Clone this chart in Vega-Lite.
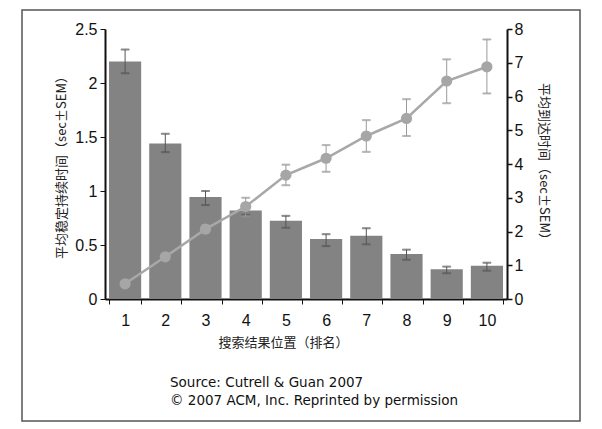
{
  "$schema": "https://vega.github.io/schema/vega-lite/v6.json",
  "width": 558,
  "height": 411,
  "autosize": {"type": "none"},
  "padding": {"left": 22, "top": 10, "right": 22, "bottom": 8},
  "background": "white",
  "config": {
    "view": {"stroke": "#555555", "strokeWidth": 1.5},
    "axis": {"labelFont": "Liberation Sans", "labelColor": "#111111", "titleFont": "Noto Sans CJK SC", "titleFontWeight": "normal", "titleColor": "#222222", "titleFontSize": 13, "domainColor": "#111111", "domainWidth": 2, "tickColor": "#111111", "grid": false}
  },
  "title": {
    "text": ["Source:  Cutrell & Guan 2007", "© 2007 ACM, Inc. Reprinted by permission"],
    "orient": "bottom",
    "anchor": "start",
    "frame": "group",
    "baseline": "top",
    "offset": -45,
    "dx": 148,
    "font": "DejaVu Sans",
    "fontSize": 13.5,
    "fontWeight": "normal",
    "color": "#111111",
    "lineHeight": 18
  },
  "data": {
    "values": [
      {"pos": "1", "dur": 2.20, "dur_lo": 2.09, "dur_hi": 2.31, "arr": 0.45, "arr_lo": 0.40, "arr_hi": 0.50},
      {"pos": "2", "dur": 1.44, "dur_lo": 1.36, "dur_hi": 1.53, "arr": 1.25, "arr_lo": 1.17, "arr_hi": 1.33},
      {"pos": "3", "dur": 0.945, "dur_lo": 0.87, "dur_hi": 1.00, "arr": 2.07, "arr_lo": 1.95, "arr_hi": 2.19},
      {"pos": "4", "dur": 0.82, "dur_lo": 0.78, "dur_hi": 0.87, "arr": 2.74, "arr_lo": 2.45, "arr_hi": 3.00},
      {"pos": "5", "dur": 0.725, "dur_lo": 0.66, "dur_hi": 0.77, "arr": 3.67, "arr_lo": 3.37, "arr_hi": 3.98},
      {"pos": "6", "dur": 0.555, "dur_lo": 0.49, "dur_hi": 0.60, "arr": 4.17, "arr_lo": 3.77, "arr_hi": 4.56},
      {"pos": "7", "dur": 0.586, "dur_lo": 0.506, "dur_hi": 0.655, "arr": 4.83, "arr_lo": 4.36, "arr_hi": 5.30},
      {"pos": "8", "dur": 0.417, "dur_lo": 0.364, "dur_hi": 0.457, "arr": 5.35, "arr_lo": 4.83, "arr_hi": 5.92},
      {"pos": "9", "dur": 0.275, "dur_lo": 0.238, "dur_hi": 0.30, "arr": 6.46, "arr_lo": 5.80, "arr_hi": 7.10},
      {"pos": "10", "dur": 0.308, "dur_lo": 0.262, "dur_hi": 0.336, "arr": 6.88, "arr_lo": 6.09, "arr_hi": 7.69}
    ]
  },
  "layer": [
    {
      "layer": [
        {
          "mark": {"type": "bar", "color": "#838383"},
          "encoding": {
            "x": {
              "field": "pos", "type": "ordinal", "sort": null, "title": "搜索结果位置（排名）",
              "scale": {"range": [83, 485], "paddingInner": 0.2, "paddingOuter": 0.1},
              "axis": {"labelAngle": 0, "offset": -122, "tickBand": "extent", "tickSize": 5, "labelFontSize": 16, "labelPadding": 8, "titleX": 261, "titleY": 47, "titleAlign": "center", "titleBaseline": "alphabetic", "titleAnchor": null}
            },
            "y": {
              "field": "dur", "type": "quantitative", "title": "平均稳定持续时间（sec±SEM）",
              "scale": {"domain": [0, 2.5], "range": [289, 19], "nice": false},
              "axis": {"orient": "left", "offset": -83, "values": [0, 0.5, 1, 1.5, 2, 2.5], "format": "~g", "tickSize": 5, "labelFontSize": 16, "labelPadding": 3, "titlePadding": 6}
            }
          }
        },
        {
          "mark": {"type": "errorbar", "rule": {"stroke": "#555555", "strokeWidth": 1}, "ticks": {"stroke": "#555555", "size": 8, "thickness": 1}},
          "encoding": {
            "x": {"field": "pos", "type": "ordinal", "sort": null, "title": "搜索结果位置（排名）"},
            "y": {"field": "dur_lo", "type": "quantitative", "title": "平均稳定持续时间（sec±SEM）"},
            "y2": {"field": "dur_hi"}
          }
        }
      ]
    },
    {
      "layer": [
        {
          "mark": {"type": "line", "color": "#a8a8a8", "strokeWidth": 2.5},
          "encoding": {
            "x": {"field": "pos", "type": "ordinal", "sort": null, "title": "搜索结果位置（排名）"},
            "y": {
              "field": "arr", "type": "quantitative", "title": "平均到达时间（sec±SEM）",
              "scale": {"domain": [0, 8], "range": [289, 19], "nice": false},
              "axis": {
                "orient": "right", "offset": -73,
                "values": [0, 0.25, 0.5, 0.75, 1, 1.25, 1.5, 1.75, 2, 2.25, 2.5, 2.75, 3, 3.25, 3.5, 3.75, 4, 4.25, 4.5, 4.75, 5, 5.25, 5.5, 5.75, 6, 6.25, 6.5, 6.75, 7, 7.25, 7.5, 7.75, 8],
                "labelExpr": "datum.value % 1 === 0 ? datum.label : ''",
                "labelOverlap": false,
                "tickSize": {"condition": {"test": "datum.value % 1 === 0", "value": 5}, "value": 3},
                "tickWidth": {"condition": {"test": "datum.value % 1 === 0", "value": 1.5}, "value": 1},
                "labelFontSize": 16, "labelPadding": 2, "titlePadding": 14
              }
            }
          }
        },
        {
          "mark": {"type": "errorbar", "rule": {"stroke": "#9a9a9a", "strokeWidth": 1}, "ticks": {"stroke": "#9a9a9a", "size": 8, "thickness": 1}},
          "encoding": {
            "x": {"field": "pos", "type": "ordinal", "sort": null, "title": "搜索结果位置（排名）"},
            "y": {"field": "arr_lo", "type": "quantitative", "title": "平均到达时间（sec±SEM）"},
            "y2": {"field": "arr_hi"}
          }
        },
        {
          "mark": {"type": "point", "filled": true, "color": "#a6a6a6", "opacity": 1, "size": 125},
          "encoding": {
            "x": {"field": "pos", "type": "ordinal", "sort": null, "title": "搜索结果位置（排名）"},
            "y": {"field": "arr", "type": "quantitative", "title": "平均到达时间（sec±SEM）"}
          }
        }
      ]
    }
  ],
  "resolve": {"scale": {"y": "independent"}, "axis": {"y": "independent"}}
}
